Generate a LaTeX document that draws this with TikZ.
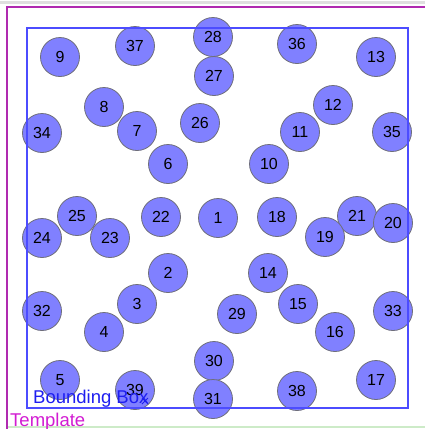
\documentclass[tikz,border=0pt]{standalone}
\usepackage{xcolor}
\usepackage{fontspec}
\setmainfont{Liberation Sans}
\usepackage{tikz}
\usetikzlibrary{positioning}
\definecolor{BallFill}{HTML}{8080FF}
\definecolor{BallEdge}{HTML}{6E6E7A}
\definecolor{BoxBlue}{HTML}{4C4CFF}
\definecolor{LabelBlue}{HTML}{1E1EF0}
\definecolor{FrameMagenta}{HTML}{B02AB0}
\definecolor{LabelMagenta}{HTML}{D21CD2}
\definecolor{FrameGreen}{HTML}{CDEBC8}
\tikzset{
  ball/.style={circle,draw=BallEdge,fill=BallFill,line width=0.8pt,
    minimum size=39pt,inner sep=0pt,
    font=\fontsize{16}{18}\selectfont\color{black}},
  boxline/.style={draw=BoxBlue,line width=1.4pt},
  frameline/.style={draw=FrameMagenta,line width=1.6pt},
  boxlabel/.style={anchor=base west,inner sep=0pt,
    font=\fontsize{18.5}{20}\selectfont\color{LabelBlue}},
  templabel/.style={anchor=base west,inner sep=0pt,
    font=\fontsize{18.5}{20}\selectfont\color{LabelMagenta}},
}
\begin{document}
\begin{tikzpicture}[x=1pt,y=-1pt]
  \useasboundingbox (0,0) rectangle (425,429);
  % outer template frame
  \draw[draw=gray!25,line width=3pt] (0,2) -- (425,2);
  \draw[draw=FrameGreen,line width=1.4pt] (7,427) -- (425,427);
  \draw[frameline] (7,429) -- (7,7) -- (425,7);
  % balls
  \node[ball] (b9)  at (60,57)   {9};
  \node[ball] (b37) at (135,46)  {37};
  \node[ball] (b28) at (213,37)  {28};
  \node[ball] (b36) at (297,44)  {36};
  \node[ball] (b13) at (376,57)  {13};
  \node[ball] (b27) at (214,76)  {27};
  \node[ball] (b8)  at (104,107) {8};
  \node[ball] (b12) at (333,105) {12};
  \node[ball] (b34) at (42,133)  {34};
  \node[ball] (b7)  at (137,131) {7};
  \node[ball] (b26) at (200,123) {26};
  \node[ball] (b11) at (300,132) {11};
  \node[ball] (b35) at (392,132) {35};
  \node[ball] (b6)  at (168,164) {6};
  \node[ball] (b10) at (269,164) {10};
  \node[ball] (b25) at (77,216)  {25};
  \node[ball] (b22) at (161,217) {22};
  \node[ball] (b1)  at (218,218) {1};
  \node[ball] (b18) at (277,217) {18};
  \node[ball] (b21) at (357,216) {21};
  \node[ball] (b20) at (393,223) {20};
  \node[ball] (b24) at (42,238)  {24};
  \node[ball] (b23) at (110,238) {23};
  \node[ball] (b19) at (325,237) {19};
  \node[ball] (b2)  at (168,273) {2};
  \node[ball] (b14) at (268,273) {14};
  \node[ball] (b3)  at (137,304) {3};
  \node[ball] (b15) at (298,304) {15};
  \node[ball] (b32) at (42,311)  {32};
  \node[ball] (b33) at (393,311) {33};
  \node[ball] (b29) at (237,314) {29};
  \node[ball] (b4)  at (104,332) {4};
  \node[ball] (b16) at (335,332) {16};
  \node[ball] (b30) at (214,361) {30};
  \node[ball] (b5)  at (60,380)  {5};
  \node[ball] (b17) at (376,380) {17};
  \node[ball] (b39) at (135,390) {39};
  \node[ball] (b31) at (213,399) {31};
  \node[ball] (b38) at (297,391) {38};
  % bounding box and labels
  \draw[boxline] (27,28) rectangle (408,408);
  \node[boxlabel] (bbox) at (33,403) {Bounding Box};
  \draw[draw=LabelBlue,line width=0.8pt] (142,398) -- (148,404) (142,404) -- (148,398);
  \node[templabel] (tmpl) at (10,426) {Template};
\end{tikzpicture}
\end{document}
